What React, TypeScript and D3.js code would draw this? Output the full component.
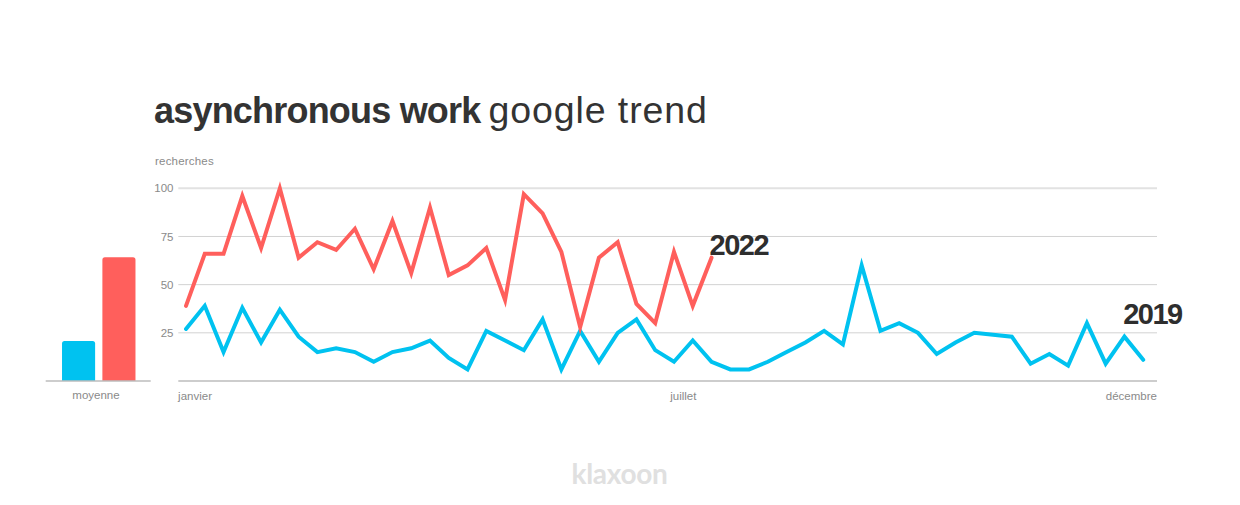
import React from "react";
import * as d3 from "d3";

const weeks = d3.range(52);
const series2022 = [39, 66, 66, 96, 69, 100, 64, 72, 68, 79, 58, 83, 56, 90, 55, 60, 69, 42, 97, 87, 67, 28, 64, 72, 40, 30, 67, 39, 64];
const series2019 = [27, 39, 15, 38, 20, 37, 23, 15, 17, 15, 10, 15, 17, 21, 12, 6, 26, 21, 16, 32, 6, 26, 10, 25, 32, 16, 10, 21, 10, 6, 6, 10, 15, 20, 26, 19, 60, 26, 30, 25, 14, 20, 25, 24, 23, 9, 14, 8, 30, 9, 23, 11];
const averages = [
  { key: "2019", value: 20.7 },
  { key: "2022", value: 64.2 },
];
const yTicks = [25, 50, 75, 100];
const monthLabels = [
  { label: "janvier", week: -0.42, anchor: "start" },
  { label: "juillet", week: 26.5, anchor: "middle" },
  { label: "décembre", week: 51.73, anchor: "end" },
];

const RED = "#ff5f5c";
const BLUE = "#00c2f0";
const FONT = "'Liberation Sans', Arial, Helvetica, sans-serif";

export default function App() {
  const x = d3.scaleLinear().domain([0, 51]).range([186, 1143.2]);
  const y = d3.scaleLinear().domain([0, 100]).range([381, 188.3]);
  const xb = d3.scaleBand().domain(averages.map((d) => d.key)).range([60, 137.5]).paddingInner(0.18).paddingOuter(0.05);

  const line = d3
    .line<number>()
    .x((_, i) => x(weeks[i]))
    .y((d) => y(d));

  const gridX0 = 178.3;
  const gridX1 = 1157;

  const barPath = (x0: number, w: number, top: number, bottom: number, r: number) =>
    `M${x0},${bottom}V${top + r}Q${x0},${top} ${x0 + r},${top}H${x0 + w - r}Q${x0 + w},${top} ${x0 + w},${top + r}V${bottom}Z`;

  return (
    <svg
      width={1240}
      height={505}
      style={{ position: "absolute", left: 0, top: 0, background: "#fff" }}
      fontFamily={FONT}
    >
      <rect width={1240} height={505} fill="#fff" />
      {/* title */}
      <text x={154} y={122.5} fontSize={36} fill="#333">
        <tspan fontWeight={700} letterSpacing={-0.8}>asynchronous work</tspan>
        <tspan dx={8} fontWeight={400} fontSize={37.5} letterSpacing={0.9}>google trend</tspan>
      </text>

      {/* y label */}
      <text x={155} y={165} fontSize={11.5} fill="#8a8a8a" letterSpacing={0.2}>recherches</text>

      {/* grid */}
      {yTicks.map((t) => (
        <g key={t}>
          <line
            x1={gridX0}
            x2={gridX1}
            y1={y(t)}
            y2={y(t)}
            stroke={t === 100 ? "#e2e2e2" : "#d2d2d2"}
            strokeWidth={t === 100 ? 2 : 1}
          />
          <text x={173.5} y={y(t)} dy="0.35em" textAnchor="end" fontSize={11.5} fill="#8a8a8a">
            {t}
          </text>
        </g>
      ))}
      <line x1={gridX0} x2={gridX1} y1={y(0)} y2={y(0)} stroke="#bdbdbd" strokeWidth={1.5} />

      {/* month labels */}
      {monthLabels.map((m) => (
        <text key={m.label} x={x(m.week)} y={400} textAnchor={m.anchor as any} fontSize={11.5} fill="#8a8a8a">
          {m.label}
        </text>
      ))}

      {/* lines */}
      <path d={line(series2019) || ""} fill="none" stroke={BLUE} strokeWidth={4} strokeLinejoin="miter" strokeLinecap="round" />
      <path d={line(series2022) || ""} fill="none" stroke={RED} strokeWidth={4} strokeLinejoin="miter" strokeLinecap="round" />

      {/* series labels */}
      <text x={x(series2022.length - 1) - 2} y={254.5} fontSize={29} fontWeight={700} fill="#2e2e2e" letterSpacing={-1.5}>
        2022
      </text>
      <text x={x(series2019.length - 1) - 20} y={323.5} fontSize={29} fontWeight={700} fill="#2e2e2e" letterSpacing={-1.5}>
        2019
      </text>

      {/* average bars */}
      {averages.map((d) => (
        <path
          key={d.key}
          d={barPath(xb(d.key)!, xb.bandwidth(), y(d.value), y(0), 2.5)}
          fill={d.key === "2019" ? BLUE : RED}
        />
      ))}
      <line x1={45.7} x2={150.7} y1={y(0)} y2={y(0)} stroke="#bdbdbd" strokeWidth={1.5} />
      <text x={96} y={399} textAnchor="middle" fontSize={11.5} fill="#8a8a8a">moyenne</text>

      {/* logo */}
      <text x={619.5} y={484.3} textAnchor="middle" fontSize={28} fontWeight={700} fill="#e0e0e0" fontFamily="Lato, 'Liberation Sans', sans-serif" letterSpacing={-0.3}>
        klaxoon
      </text>
    </svg>
  );
}
